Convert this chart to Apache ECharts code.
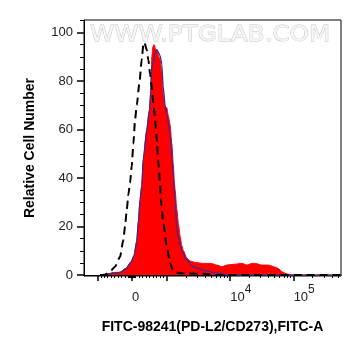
<!DOCTYPE html>
<html>
<head>
<meta charset="utf-8">
<title>FITC-98241 histogram</title>
<script src="https://cdn.jsdelivr.net/npm/echarts@6.0.0/dist/echarts.min.js"></script>
<style>
    html, body { margin: 0; padding: 0; background: #fff; }
    #chart { width: 361px; height: 356px; }
</style>
</head>
<body>
<div id="chart"></div>
<script>
// x is the display position in decades (3 = 10^3, 4 = 10^4 ...), linear between -10^3 and 10^3
var stained = [
    [1.946, 0], [2.073, 0.5], [2.152, 1], [2.262, 1.2], [2.357, 2.8], [2.436, 5.5], [2.483, 8],
    [2.526, 14], [2.551, 22], [2.578, 31], [2.605, 37], [2.630, 48], [2.684, 60], [2.725, 68],
    [2.747, 74], [2.752, 80], [2.763, 90], [2.779, 94], [2.799, 95], [2.826, 93], [2.852, 92.5],
    [2.867, 90.7], [2.894, 88.7], [2.921, 83], [2.946, 74], [2.973, 69], [3.000, 69], [3.021, 66],
    [3.052, 62], [3.079, 54], [3.104, 45], [3.120, 38], [3.131, 35], [3.158, 27], [3.183, 21],
    [3.210, 16], [3.237, 12], [3.262, 10], [3.316, 7], [3.368, 5.8], [3.447, 5.2], [3.573, 4.8],
    [3.700, 4.8], [3.790, 4.1], [3.869, 3.4], [3.948, 4.1], [4.047, 4.4], [4.185, 4.8], [4.264, 4.1],
    [4.343, 4.8], [4.395, 4.8], [4.501, 4.1], [4.600, 4.1], [4.711, 3.2], [4.758, 2.7], [4.821, 1.3],
    [4.896, 0.4], [4.975, 0], [5.738, 0]
];
var stainedOutline = [
    [1.946, 0], [2.073, 0.4], [2.152, 0.8], [2.262, 1], [2.357, 2.6], [2.436, 5.3], [2.483, 8],
    [2.526, 14], [2.551, 22], [2.578, 31], [2.605, 37], [2.630, 48], [2.684, 60], [2.725, 68],
    [2.747, 76], [2.757, 84], [2.768, 86], [2.790, 88], [2.815, 92], [2.842, 93], [2.863, 92],
    [2.894, 90.5], [2.921, 87], [2.942, 78], [2.973, 70], [3.005, 66], [3.052, 58], [3.084, 48],
    [3.104, 40], [3.131, 30], [3.158, 19], [3.183, 15.5], [3.237, 10], [3.316, 6.2], [3.420, 3.4],
    [3.578, 2], [3.790, 0.7], [3.973, 0], [5.738, 0]
];
var control = [
    [1.946, 0], [2.025, 0], [2.104, 1.4], [2.183, 3.4], [2.262, 7.5], [2.314, 14.4], [2.341, 20],
    [2.368, 26.8], [2.393, 33], [2.420, 38], [2.447, 45], [2.472, 54], [2.499, 64], [2.526, 70],
    [2.567, 79], [2.605, 89], [2.630, 95], [2.646, 96], [2.684, 92.8], [2.709, 88.7], [2.736, 83],
    [2.763, 77.6], [2.788, 71], [2.815, 64], [2.842, 55.7], [2.867, 46], [2.894, 38], [2.905, 31],
    [2.946, 21.3], [3.000, 11.7], [3.052, 4.8], [3.104, 1.4], [3.210, 0.7], [3.605, 0.5],
    [3.763, 0], [5.738, 0]
];

var yLabels = [0, 20, 40, 60, 80, 100];
var yMinor = [5, 10, 15, 25, 30, 35, 45, 50, 55, 65, 70, 75, 85, 90, 95, 105];
var xLabelPos = [2.452, 4, 5];
var xLabelBase = ["0", "10", "10"];
var xLabelExp = ["", "4", "5"];

var xMin = 1.694, xMax = 5.747;
var zeroPos = 2.452, linSpan = 3 - zeroPos;
var xMajor = [zeroPos - linSpan, zeroPos, 3, 4, 5];
var xMinor = [];
for (var k = 1; k <= 9; k++) {
    xMinor.push(zeroPos + k * linSpan / 10, zeroPos - k * linSpan / 10,
        zeroPos + k * linSpan / 100, zeroPos - k * linSpan / 100);
}
[3, 4, 5].forEach(function(d) {
    for (var k = 2; k <= 9; k++) {
        if (d + Math.log10(k) < xMax) xMinor.push(d + Math.log10(k));
    }
});

function xLabel(v) {
    for (var i = 0; i < xLabelPos.length; i++) {
        if (Math.abs(v - xLabelPos[i]) < 1e-6) {
            return "{b|" + xLabelBase[i] + "}{s|" + (xLabelExp[i] || " ") + "}";
        }
    }
    return "";
}

var font = "Liberation Sans, Arial, sans-serif";
var chart = echarts.init(document.getElementById("chart"));

var option = {
    animation: false,
    textStyle: { fontFamily: font },
    grid: {
        left: 84, right: 20, top: 20, bottom: 80,
        show: true, borderColor: "#000", borderWidth: 1, backgroundColor: "#fff"
    },
    graphic: [{
        type: "text",
        x: 90,
        y: 25,
        scaleX: 1.17,
        z: 1,
        silent: true,
        style: {
            text: "WWW.PTGLAB.COM",
            font: "21px DejaVu Sans",
            fill: "#f6f6f6",
            stroke: "#c2c2c2",
            lineWidth: 0.8
        }
    }],
    xAxis: [{
        type: "value",
        min: xMin,
        max: xMax,
        position: "bottom",
        name: "FITC-98241(PD-L2/CD273),FITC-A",
        nameLocation: "middle",
        nameGap: 44,
        nameTextStyle: { fontSize: 14, fontWeight: "bold", color: "#000", fontFamily: font },
        splitLine: { show: false },
        axisLine: { lineStyle: { color: "#000", width: 1 } },
        axisTick: { customValues: xMajor, length: 6, lineStyle: { color: "#000", width: 1.5 } },
        axisLabel: {
            customValues: xLabelPos,
            formatter: xLabel,
            align: "left",
            margin: 8,
            rich: {
                b: { fontSize: 13, color: "#222", verticalAlign: "bottom", fontFamily: font },
                s: { fontSize: 12, color: "#222", verticalAlign: "bottom", padding: [0, 0, 8, 0], fontFamily: font }
            }
        }
    }, {
        type: "value",
        min: xMin,
        max: xMax,
        position: "bottom",
        splitLine: { show: false },
        axisLine: { show: false },
        axisLabel: { show: false },
        axisTick: { customValues: xMinor, length: 3, lineStyle: { color: "#000", width: 1 } }
    }],
    yAxis: [{
        type: "value",
        min: -0.4,
        max: 105.2,
        position: "left",
        name: "Relative Cell Number",
        nameLocation: "middle",
        nameGap: 47,
        nameTextStyle: { fontSize: 14, fontWeight: "bold", color: "#000", fontFamily: font },
        splitLine: { show: false },
        axisLine: { show: true, lineStyle: { color: "#000", width: 1 } },
        axisTick: { show: true, customValues: yLabels, length: 7, lineStyle: { color: "#000", width: 1.5 } },
        axisLabel: { customValues: yLabels, margin: 11, fontSize: 13, color: "#222", fontFamily: font }
    }, {
        type: "value",
        min: -0.4,
        max: 105.2,
        position: "left",
        splitLine: { show: false },
        axisLine: { show: false },
        axisLabel: { show: false },
        axisTick: { show: true, customValues: yMinor, length: 4, lineStyle: { color: "#000", width: 1 } }
    }],
    series: [{
        name: "stained",
        type: "line",
        data: stained,
        symbol: "none",
        smooth: 0.2,
        smoothMonotone: "x",
        lineStyle: { color: "#ff0000", width: 1 },
        areaStyle: { color: "#ff0000", opacity: 1 },
        z: 2
    }, {
        name: "stained outline",
        type: "line",
        data: stainedOutline,
        symbol: "none",
        smooth: 0.2,
        smoothMonotone: "x",
        lineStyle: { color: "#3c2a92", width: 1.3 },
        z: 3
    }, {
        name: "control",
        type: "line",
        data: control,
        symbol: "none",
        smooth: 0.2,
        smoothMonotone: "x",
        lineStyle: { color: "#000", width: 2, type: [8, 5] },
        z: 4
    }]
};

chart.setOption(option);
</script>
</body>
</html>
